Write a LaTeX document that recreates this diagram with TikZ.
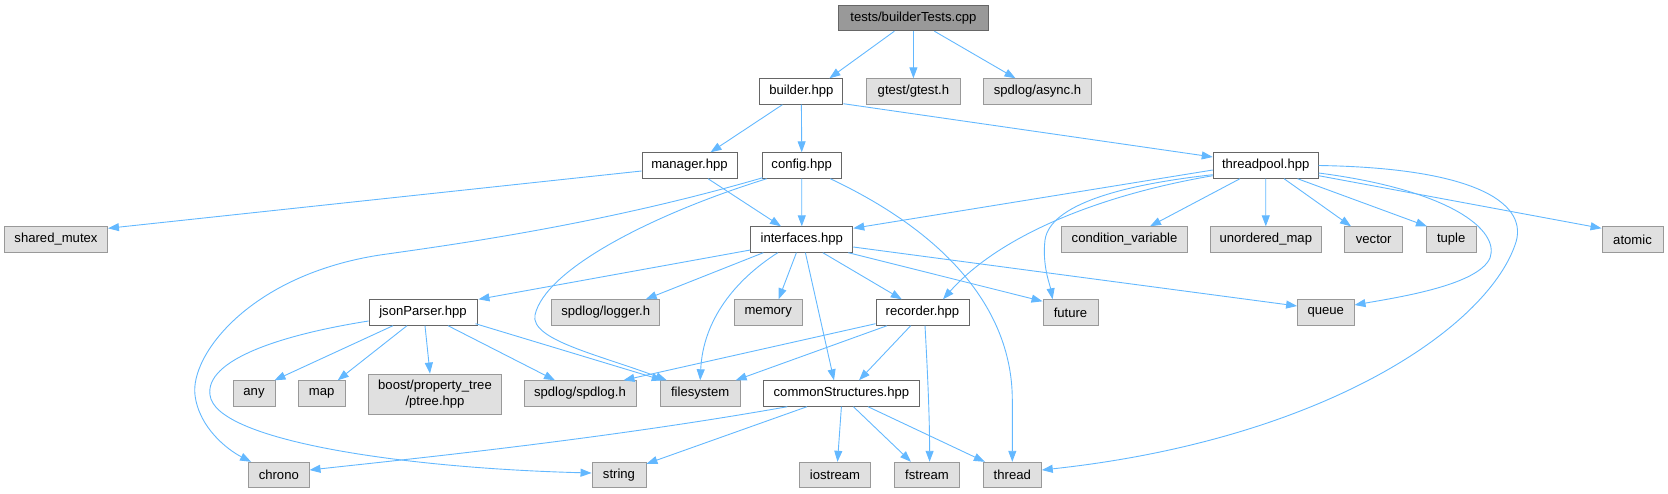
\documentclass[tikz,border=0pt]{standalone}
\usepackage{fontspec}
\setmainfont{Liberation Sans}
\usetikzlibrary{arrows.meta,calc}
\definecolor{edgec}{HTML}{63B8FF}
\definecolor{bordint}{HTML}{666666}
\definecolor{bordext}{HTML}{999999}
\definecolor{fillext}{HTML}{E0E0E0}
\definecolor{fillroot}{HTML}{999999}
\begin{document}
\begin{tikzpicture}[x=1pt,y=-1pt,
  base/.style={draw, rectangle, inner sep=0pt, minimum height=25.5pt, line width=0.9pt,
    font=\fontsize{13.1}{16.5}\selectfont, align=center},
  intn/.style={base, draw=bordint, fill=white},
  extn/.style={base, draw=bordext, fill=fillext},
  rootn/.style={base, draw=bordint, fill=fillroot},
  wd/.style={minimum width=#1pt},
  e/.style={draw=edgec, line width=0.9pt, -{Triangle[length=11pt,width=8pt]}}]
\useasboundingbox (0,0) rectangle (1668,493);
% nodes
\node[rootn,wd=150] (root) at (913.4,18) {tests/builderTests.cpp};
\node[intn,wd=83] (bld) at (801.4,91.5) {builder.hpp};
\node[extn,wd=94] (gt) at (913.4,91.5) {gtest/gtest.h};
\node[extn,wd=108] (asy) at (1037.5,91.5) {spdlog/async.h};
\node[intn,wd=95] (mgr) at (689.5,165.5) {manager.hpp};
\node[intn,wd=79] (cfg) at (801.7,165.5) {config.hpp};
\node[intn,wd=105] (tp) at (1265.7,165.5) {threadpool.hpp};
\node[extn,wd=103] (shm) at (56,239.5) {shared\_mutex};
\node[intn,wd=102] (ifc) at (801.8,239.5) {interfaces.hpp};
\node[extn,wd=125.5] (cv) at (1124.5,239.5) {condition\_variable};
\node[extn,wd=110.5] (um) at (1265.8,239.5) {unordered\_map};
\node[extn,wd=57.6] (vec) at (1373.7,239.5) {vector};
\node[extn,wd=49.6] (tup) at (1451.2,239.5) {tuple};
\node[extn,wd=61] (atm) at (1632.5,239.5) {atomic};
\node[intn,wd=108] (jsp) at (423,312.5) {jsonParser.hpp};
\node[extn,wd=108] (lgr) at (605.7,312.5) {spdlog/logger.h};
\node[extn,wd=68] (mem) at (768.2,312.5) {memory};
\node[intn,wd=93] (rec) at (922.5,312.5) {recorder.hpp};
\node[extn,wd=55] (fut) at (1070.5,312.5) {future};
\node[extn,wd=56.5] (que) at (1325.8,312.5) {queue};
\node[extn,wd=42] (any) at (254,393.5) {any};
\node[extn,wd=47] (map) at (321.7,393.5) {map};
\node[extn,wd=133,minimum height=40pt] (bst) at (435,394) {boost/property\_tree\\/ptree.hpp};
\node[extn,wd=112] (sph) at (580,393.5) {spdlog/spdlog.h};
\node[extn,wd=80] (fs) at (700.2,393.5) {filesystem};
\node[intn,wd=156] (cs) at (841.4,393.5) {commonStructures.hpp};
\node[extn,wd=60.5] (chr) at (278.8,475) {chrono};
\node[extn,wd=54] (str) at (619,475) {string};
\node[extn,wd=71.5] (ios) at (835,475) {iostream};
\node[extn,wd=65] (fst) at (927,475) {fstream};
\node[extn,wd=58] (thr) at (1012.3,475) {thread};
% edges
\draw[e] ($(root.south)+(-19,0)$) -- ($(bld.north)+(28,0)$);
\draw[e] (root.south) -- (gt.north);
\draw[e] ($(root.south)+(21,0)$) -- ($(asy.north)+(-22,0)$);
\draw[e] ($(bld.south)+(-19,0)$) -- ($(mgr.north)+(21,0)$);
\draw[e] (bld.south) -- (cfg.north);
\draw[e] ($(bld.south east)+(0,-1)$) -- ($(tp.west)+(0,-8.5)$);
\draw[e] ($(mgr.west)+(0,5.5)$) -- ($(shm.north east)+(0,2)$);
\draw[e] ($(mgr.south)+(18.5,0)$) -- ($(ifc.north)+(-20.8,0)$);
\draw[e] (cfg.south) -- (ifc.north);
\draw[e] ($(cfg.south west)+(1,-1)$) .. controls (600,225) and (450,245) .. (380,255)
   .. controls (250,275) and (190,355) .. (195,395)
   .. controls (199,428) and (228,450) .. ($(chr.north west)+(3,0)$);
\draw[e] ($(cfg.south west)+(5,0)$) .. controls (650,215) and (545,270) .. (535,315)
   .. controls (530,340) and (600,355) .. ($(fs.north west)+(7,0)$);
\draw[e] ($(cfg.south east)+(-11.4,0)$) .. controls (960,240) and (1012.3,320) .. (1012.3,400) -- (thr.north);
\draw[e] ($(tp.west)+(0,4.5)$) -- ($(ifc.north east)+(0,2)$);
\draw[e] ($(tp.south west)+(0,-3)$) .. controls (1100,195) and (1000,235) .. ($(rec.north)+(20.5,0)$);
\draw[e] ($(tp.south west)+(0,-4)$) .. controls (1120,185) and (1050,205) .. (1045,240)
   .. controls (1042,265) and (1050,285) .. ($(fut.north west)+(10,0)$);
\draw[e] ($(tp.south)+(-25.7,0)$) -- ($(cv.north)+(25.5,0)$);
\draw[e] (tp.south) -- (um.north);
\draw[e] ($(tp.south)+(18.3,0)$) -- ($(vec.north)+(-22.7,0)$);
\draw[e] ($(tp.south)+(31.8,0)$) -- ($(tup.north west)+(1,0)$);
\draw[e] ($(tp.south east)+(0,-3)$) -- ($(atm.north west)+(0,2)$);
\draw[e] ($(tp.east)+(0,7.5)$) .. controls (1450,190) and (1500,230) .. (1490,258)
   .. controls (1478,285) and (1400,297) .. ($(que.east)+(0,-7.5)$);
\draw[e] (tp.east) .. controls (1480,168) and (1530,205) .. (1515,245)
   .. controls (1485,330) and (1320,440) .. ($(thr.east)+(0,-5)$);
\draw[e] ($(ifc.west)+(0,10.5)$) -- ($(jsp.north east)+(1,0)$);
\draw[e] ($(ifc.south west)+(13,0)$) -- ($(lgr.north)+(40,0)$);
\draw[e] ($(ifc.south)+(-24,0)$) .. controls (735,280) and (703,320) .. (fs.north);
\draw[e] ($(ifc.south)+(-5.4,0)$) -- ($(mem.north)+(10.4,0)$);
\draw[e] ($(ifc.south)+(3.6,0)$) -- ($(cs.north)+(-7.4,0)$);
\draw[e] ($(ifc.south)+(21,0)$) -- ($(rec.north)+(-20.7,0)$);
\draw[e] ($(ifc.south east)+(-5,0)$) -- ($(fut.north west)+(0,2)$);
\draw[e] ($(ifc.east)+(0,7.5)$) -- ($(que.west)+(0,-6.5)$);
\draw[e] ($(jsp.south)+(-30,0)$) -- ($(any.north east)+(-1,0)$);
\draw[e] ($(jsp.south)+(-16,0)$) -- ($(map.north)+(16,0)$);
\draw[e] ($(jsp.south)+(2,0)$) -- ($(bst.north)+(-5,0)$);
\draw[e] ($(jsp.south)+(25,0)$) -- ($(sph.north)+(-25,0)$);
\draw[e] ($(jsp.south east)+(-2,-2)$) -- ($(fs.north west)+(3,0)$);
\draw[e] ($(jsp.west)+(0,8.5)$) .. controls (280,335) and (205,360) .. (210,395)
   .. controls (215,440) and (400,468) .. ($(str.west)+(0,-2)$);
\draw[e] ($(rec.south west)+(0,-2)$) -- ($(sph.north east)+(-13,0)$);
\draw[e] ($(rec.south west)+(11.5,0)$) -- ($(fs.north east)+(-5,0)$);
\draw[e] ($(rec.south)+(-11.8,0)$) -- ($(cs.north)+(17.6,0)$);
\draw[e] ($(rec.south)+(2.5,0)$) .. controls (928,380) and (929.6,420) .. ($(fst.north)+(2.6,0)$);
\draw[e] ($(cs.south)+(-54,0)$) .. controls (600,440) and (400,460) .. ($(chr.east)+(0,-5)$);
\draw[e] ($(cs.south)+(-34.4,0)$) -- ($(str.north east)+(0,2)$);
\draw[e] (cs.south) -- ($(ios.north)+(2.5,0)$);
\draw[e] ($(cs.south)+(12,0)$) -- ($(fst.north)+(-16,0)$);
\draw[e] ($(cs.south)+(26.6,0)$) -- ($(thr.north west)+(2,0)$);
\end{tikzpicture}
\end{document}
